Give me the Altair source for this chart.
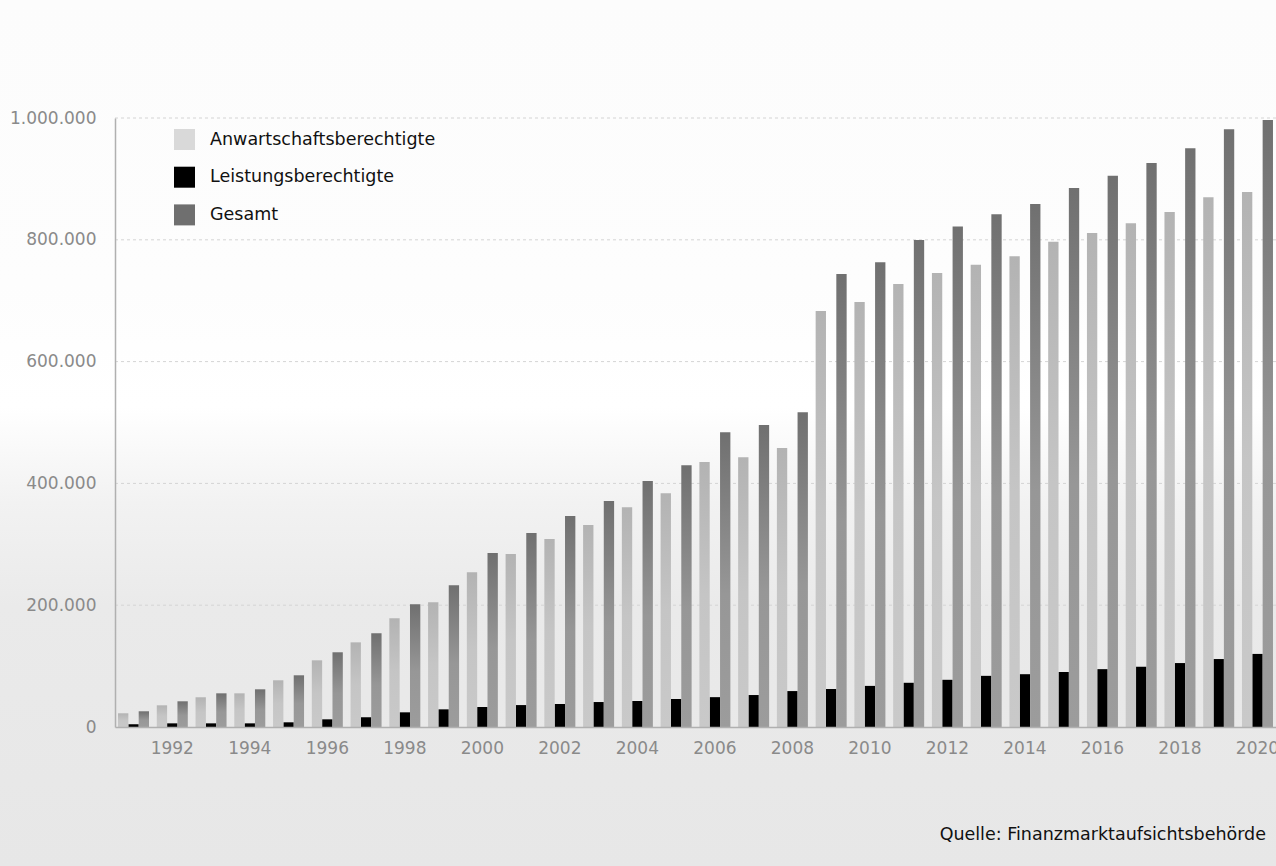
import altair as alt
import pandas as pd

# Participants in Austrian Pensionskassen, 1991-2020
years = list(range(1991, 2021))

anwartschaft = [22500, 35600, 48800, 55300, 76700, 109500, 139000, 178500, 204700, 254000,
                284000, 308700, 331700, 361000, 384000, 435000, 443000, 458000, 683000, 698000,
                727600, 745500, 759000, 773000, 796700, 811000, 827000, 845700, 870000, 878500]
leistung = [4400, 6000, 6000, 6000, 7700, 12600, 16000, 24100, 29000, 32800,
            36000, 37800, 41000, 42700, 46000, 49000, 52500, 59000, 62400, 67500,
            72600, 77500, 84000, 86700, 90300, 95000, 98800, 105000, 111600, 120000]
gesamt = [25800, 42200, 55300, 61900, 84900, 122700, 153800, 201500, 232700, 285700,
          318500, 346500, 371000, 404000, 430000, 484000, 496000, 517000, 744000, 763000,
          799500, 822000, 842000, 858600, 885000, 905000, 926000, 950500, 981700, 996800]

series = ["Anwartschaftsberechtigte", "Leistungsberechtigte", "Gesamt"]
legend_colors = ["#d9d9d9", "#000000", "#6f6f6f"]
grid_values = [200000, 400000, 600000, 800000, 1000000]
tick_years = list(range(1992, 2021, 2))
source_note = "Quelle: Finanzmarktaufsichtsbehörde"

df = pd.DataFrame({
    "Jahr": years * 3,
    "Reihe": [s for s in series for _ in years],
    "Wert": anwartschaft + leistung + gesamt,
})

FONT = "DejaVu Sans"
W, H = 1161, 609
PAD_L, PAD_T, PAD_B = 115, 118, 139


def vgrad(stops):
    return alt.LinearGradient(
        gradient="linear", x1=0, y1=0, x2=0, y2=1,
        stops=[alt.GradientStop(offset=o, color=c) for o, c in stops],
    )


bg_grad = vgrad([(0.0, "#fcfcfc"), (0.33, "#fdfdfd"), (0.47, "#ffffff"),
                 (0.58, "#f2f2f2"), (0.70, "#eaeaea"), (1.0, "#e7e7e7")])
light_grad = vgrad([(0.0, "#b3b3b3"), (0.5, "#c5c5c5"), (1.0, "#c9c9c9")])
dark_grad = vgrad([(0.0, "#707070"), (0.55, "#979797"), (1.0, "#9c9c9c")])

x_enc = alt.X(
    "Jahr:O",
    scale=alt.Scale(paddingInner=0.2, paddingOuter=0.078),
    axis=alt.Axis(values=tick_years, labelAngle=0, labelPadding=13, title=None, zindex=1),
)
xoff_enc = alt.XOffset("Reihe:N", scale=alt.Scale(domain=series, paddingInner=0, paddingOuter=0))
y_enc = alt.Y(
    "Wert:Q",
    scale=alt.Scale(domain=[0, 1000000], nice=False),
    axis=alt.Axis(
        values=[0] + grid_values,
        labelExpr="replace(replace(format(datum.value, ','), ',', '.'), ',', '.')",
        labelPadding=19,
        grid=False,
        title=None,
        zindex=1,
    ),
)

# page background spanning the full canvas, padding included
background = alt.Chart(alt.Data(values=[{}])).mark_rect(fill=bg_grad).encode(
    x=alt.value(-PAD_L), x2=alt.value(W), y=alt.value(-PAD_T), y2=alt.value(H + PAD_B)
)

grid = alt.Chart(pd.DataFrame({"v": grid_values})).mark_rule(
    color="#d4d4d4", strokeDash=[3, 3], strokeWidth=1
).encode(y=alt.Y("v:Q", title=None))

black_bars = alt.Chart(df).transform_filter(
    alt.datum.Reihe == "Leistungsberechtigte"
).mark_bar().encode(
    x=x_enc,
    xOffset=xoff_enc,
    y=y_enc,
    color=alt.Color(
        "Reihe:N",
        scale=alt.Scale(domain=series, range=legend_colors),
        legend=alt.Legend(
            title=None, orient="none", legendX=59, legendY=11,
            symbolType="square", symbolSize=441, symbolStrokeWidth=0,
            labelFont=FONT, labelFontSize=17.5, labelColor="#111111", labelLimit=0,
            labelOffset=15, rowPadding=16.7, padding=0,
        ),
    ),
)

light_bars = alt.Chart(df).transform_filter(
    alt.datum.Reihe == "Anwartschaftsberechtigte"
).mark_bar(fill=light_grad).encode(x=x_enc, xOffset=xoff_enc, y=y_enc)

dark_bars = alt.Chart(df).transform_filter(
    alt.datum.Reihe == "Gesamt"
).mark_bar(fill=dark_grad).encode(x=x_enc, xOffset=xoff_enc, y=y_enc)

# source note in the lower right corner
source = alt.Chart(alt.Data(values=[{"t": source_note}])).mark_text(
    font=FONT, fontSize=17.5, color="#111111", align="right", baseline="middle"
).encode(text="t:N", x=alt.value(W - 10), y=alt.value(717))

chart = alt.layer(background, grid, black_bars, light_bars, dark_bars, source).properties(
    width=W,
    height=H,
    autosize=alt.AutoSizeParams(type="none"),
    padding={"left": PAD_L, "top": PAD_T, "right": 0, "bottom": PAD_B},
).configure(background="#ececec").configure_view(stroke=None).configure_axis(
    domainColor="#b0b0b0",
    domainWidth=1.5,
    ticks=False,
    labelColor="#8a8a8a",
    labelFont=FONT,
    labelFontSize=17,
)

chart.save("out.html", embed_options={"renderer": "svg", "actions": False})
